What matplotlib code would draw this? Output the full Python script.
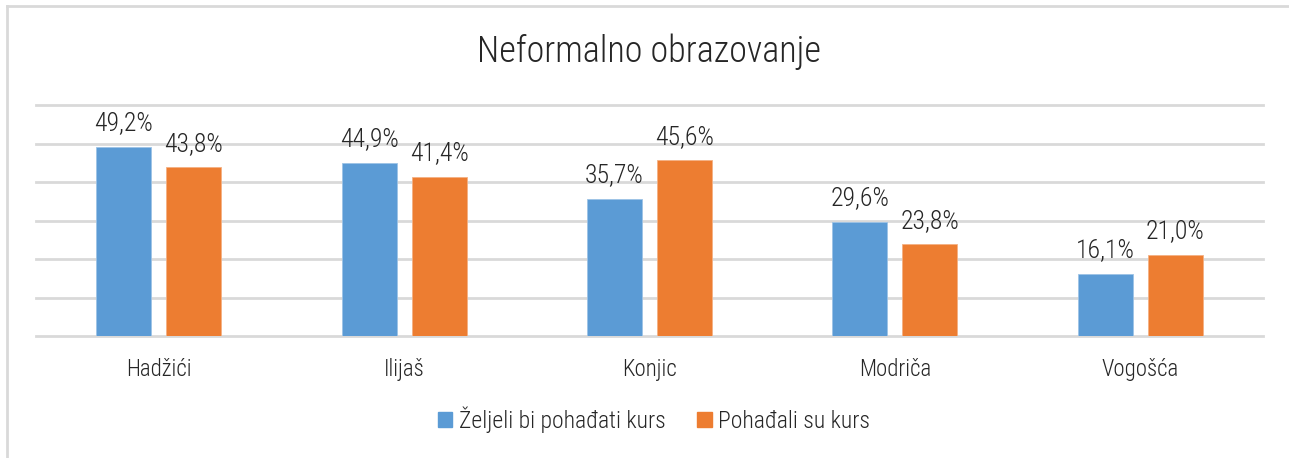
import numpy as np
import matplotlib.pyplot as plt
from matplotlib.lines import Line2D
from matplotlib.patches import Patch

# podaci
gradovi = ["Hadžići", "Ilijaš", "Konjic", "Modriča", "Vogošća"]
zeljeli = [49.2, 44.9, 35.7, 29.6, 16.1]
pohadali = [43.8, 41.4, 45.6, 23.8, 21.0]
serije = ["Željeli bi pohađati kurs", "Pohađali su kurs"]

plt.rcParams['font.family'] = ['Roboto Condensed', 'Lato', 'DejaVu Sans']
plt.rcParams['font.weight'] = 'light'
tekst = '#262626'

fig = plt.figure(figsize=(12.89, 4.58), dpi=100)
ax = fig.add_axes([36/1289, 1 - 336/458, 1227/1289, 231/458])

x = np.arange(len(gradovi))
w = 0.224
off = 0.1426
b1 = ax.bar(x - off, zeljeli, w, color='#5B9BD5', edgecolor='#9DC3E6', linewidth=0.6, zorder=3)
b2 = ax.bar(x + off, pohadali, w, color='#ED7D31', edgecolor='#F4B183', linewidth=0.6, zorder=3)

for bars, vals in [(b1, zeljeli), (b2, pohadali)]:
    for b, v in zip(bars, vals):
        ax.text(b.get_x() + b.get_width()/2, v + 3.0, f"{v:.1f}%".replace('.', ','),
                ha='center', va='bottom', fontsize=18.5, color=tekst)

ax.set_xlim(-0.5, 4.5)
ax.set_ylim(0, 60)
for g in np.arange(0, 61, 10):
    ax.axhline(g, color='#d9d9d9', linewidth=2, zorder=0, clip_on=False)
ax.set_yticks([])
ax.tick_params(axis='x', bottom=False, pad=12)
ax.set_xticks(x)
ax.set_xticklabels(gradovi, fontsize=16.5, color=tekst)
for s in ax.spines.values():
    s.set_visible(False)

fig.text(649/1289, 1 - 52/458, "Neformalno obrazovanje", ha='center', va='center',
         fontsize=26, color=tekst)

handles = [Patch(color='#5B9BD5'), Patch(color='#ED7D31')]
fig.legend(handles, serije, loc='center', bbox_to_anchor=(654/1289, 1 - 420/458),
           ncol=2, frameon=False, fontsize=17, handlelength=0.6, handleheight=0.6,
           handletextpad=0.27, columnspacing=1.36, labelcolor=tekst)

# okvir grafikona
fig.add_artist(Line2D([7/1289, 1], [1 - 5.5/458, 1 - 5.5/458], color='#d9d9d9', linewidth=2))
fig.add_artist(Line2D([7/1289, 7/1289], [0, 1 - 5.5/458], color='#d9d9d9', linewidth=2))

fig.savefig("out.png", dpi=100)
